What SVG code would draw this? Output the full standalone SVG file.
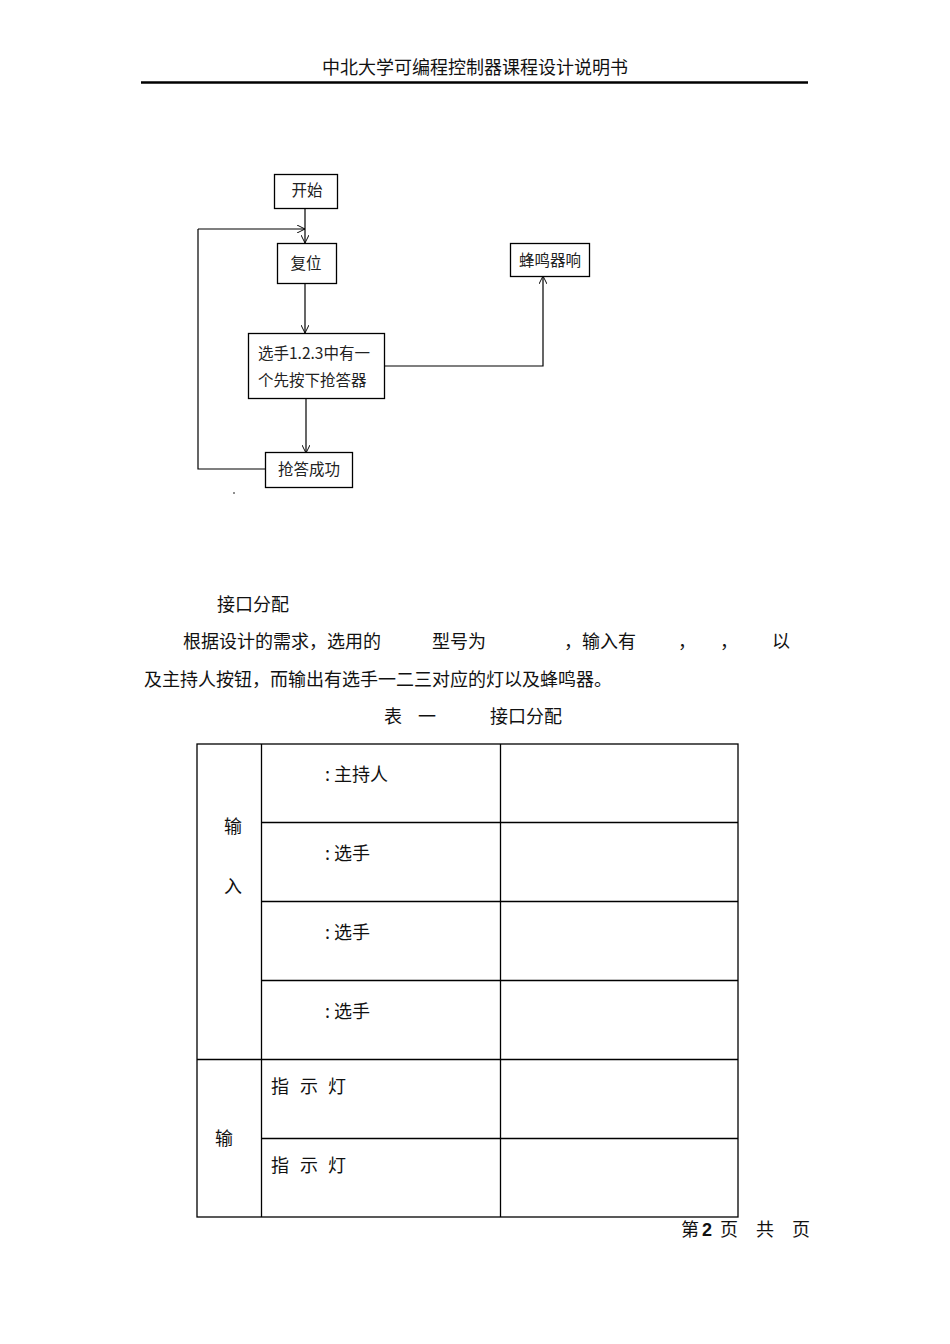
<svg xmlns="http://www.w3.org/2000/svg" width="950" height="1344" viewBox="0 0 950 1344">
<defs>
<marker id="arr" viewBox="0 0 10 10" refX="10" refY="5" markerWidth="8" markerHeight="8" orient="auto" markerUnits="userSpaceOnUse">
<path d="M0,0 L10,5 L0,10" fill="none" stroke="#000" stroke-width="1.2"/>
</marker>
<style>
.box{fill:#fff;stroke:#000;stroke-width:1.3}
.fl{font-family:"Noto Sans CJK SC","Noto Sans",sans-serif;font-size:15.5px;fill:#222}
.con{fill:none;stroke:#000;stroke-width:1.2}
.serif{font-family:"Liberation Serif","Noto Sans CJK SC",serif;font-size:18px;fill:#111}
.sans{font-family:"Noto Sans CJK SC","Noto Sans",sans-serif;font-size:18px;fill:#111}
.tb{stroke:#000;stroke-width:1.3;fill:none}
</style>
</defs>
<rect width="950" height="1344" fill="#fff"/>
<g id="header">
<text x="475" y="74" text-anchor="middle" class="sans" font-size="18">中北大学可编程控制器课程设计说明书</text>
<line x1="141" y1="82.5" x2="808" y2="82.5" stroke="#000" stroke-width="2.4"/>
</g>
<g id="connectors">
<line class="con" x1="305" y1="208" x2="305" y2="243" marker-end="url(#arr)"/>
<polyline class="con" points="198,229 305,229" marker-end="url(#arr)"/>
<line class="con" x1="305" y1="283" x2="305" y2="333" marker-end="url(#arr)"/>
<polyline class="con" points="384,366 543,366 543,276" marker-end="url(#arr)"/>
<line class="con" x1="306" y1="398" x2="306" y2="453" marker-end="url(#arr)"/>
<polyline class="con" points="265,469 198,469 198,229"/>
</g>
<g id="n_start"><rect class="box" x="274.5" y="174.5" width="63" height="34"/><text class="fl" x="307" y="196" text-anchor="middle">开始</text></g>
<g id="n_reset"><rect class="box" x="277.5" y="243.5" width="59" height="40"/><text class="fl" x="306" y="269" text-anchor="middle">复位</text></g>
<g id="n_press"><rect class="box" x="248.5" y="333.5" width="136" height="65"/><text class="fl" x="258" y="359">选手1.2.3中有一</text><text class="fl" x="258" y="386">个先按下抢答器</text></g>
<g id="n_buzz"><rect class="box" x="510.5" y="243.5" width="79" height="33"/><text class="fl" x="550" y="266" text-anchor="middle">蜂鸣器响</text></g>
<g id="n_ok"><rect class="box" x="265.5" y="452.5" width="87" height="35"/><text class="fl" x="309" y="475" text-anchor="middle">抢答成功</text></g>
<circle cx="234" cy="493" r="0.8" fill="#000"/>
<g id="body">
<text class="sans" x="217" y="611" font-size="17">接口分配</text>
<text class="serif" y="648"><tspan x="183">根据设计的需求，选用的</tspan><tspan x="432">型号为</tspan><tspan x="564">，输入有</tspan><tspan x="678">，</tspan><tspan x="720">，</tspan><tspan x="772">以</tspan></text>
<text class="serif" x="144" y="686">及主持人按钮，而输出有选手一二三对应的灯以及蜂鸣器。</text>
<text class="serif" y="723"><tspan x="384">表</tspan><tspan x="418">一</tspan><tspan x="490">接口分配</tspan></text>
</g>
<g id="table">
<rect class="tb" x="197" y="744" width="541" height="473"/>
<line class="tb" x1="261.5" y1="744" x2="261.5" y2="1217"/>
<line class="tb" x1="500.5" y1="744" x2="500.5" y2="1217"/>
<line class="tb" x1="261" y1="822.5" x2="738" y2="822.5"/>
<line class="tb" x1="261" y1="901.5" x2="738" y2="901.5"/>
<line class="tb" x1="261" y1="980.5" x2="738" y2="980.5"/>
<line class="tb" x1="197" y1="1059.5" x2="738" y2="1059.5"/>
<line class="tb" x1="261" y1="1138.5" x2="738" y2="1138.5"/>
<text class="sans" x="325" y="781">: 主持人</text>
<text class="sans" x="325" y="860">: 选手</text>
<text class="sans" x="325" y="939">: 选手</text>
<text class="sans" x="325" y="1018">: 选手</text>
<text class="sans" x="224" y="833">输</text>
<text class="sans" x="224" y="893">入</text>
<text class="sans" x="215" y="1145">输</text>
<text class="sans" y="1093"><tspan x="271">指</tspan><tspan x="300">示</tspan><tspan x="328">灯</tspan></text>
<text class="sans" y="1172"><tspan x="271">指</tspan><tspan x="300">示</tspan><tspan x="328">灯</tspan></text>
</g>
<g id="footer">
<text class="serif" font-size="14" y="1236" fill="#333"><tspan x="681">第</tspan><tspan x="702" font-family="Liberation Sans,sans-serif" font-weight="bold">2</tspan><tspan x="720">页</tspan><tspan x="756">共</tspan><tspan x="792">页</tspan></text>
</g>
</svg>
